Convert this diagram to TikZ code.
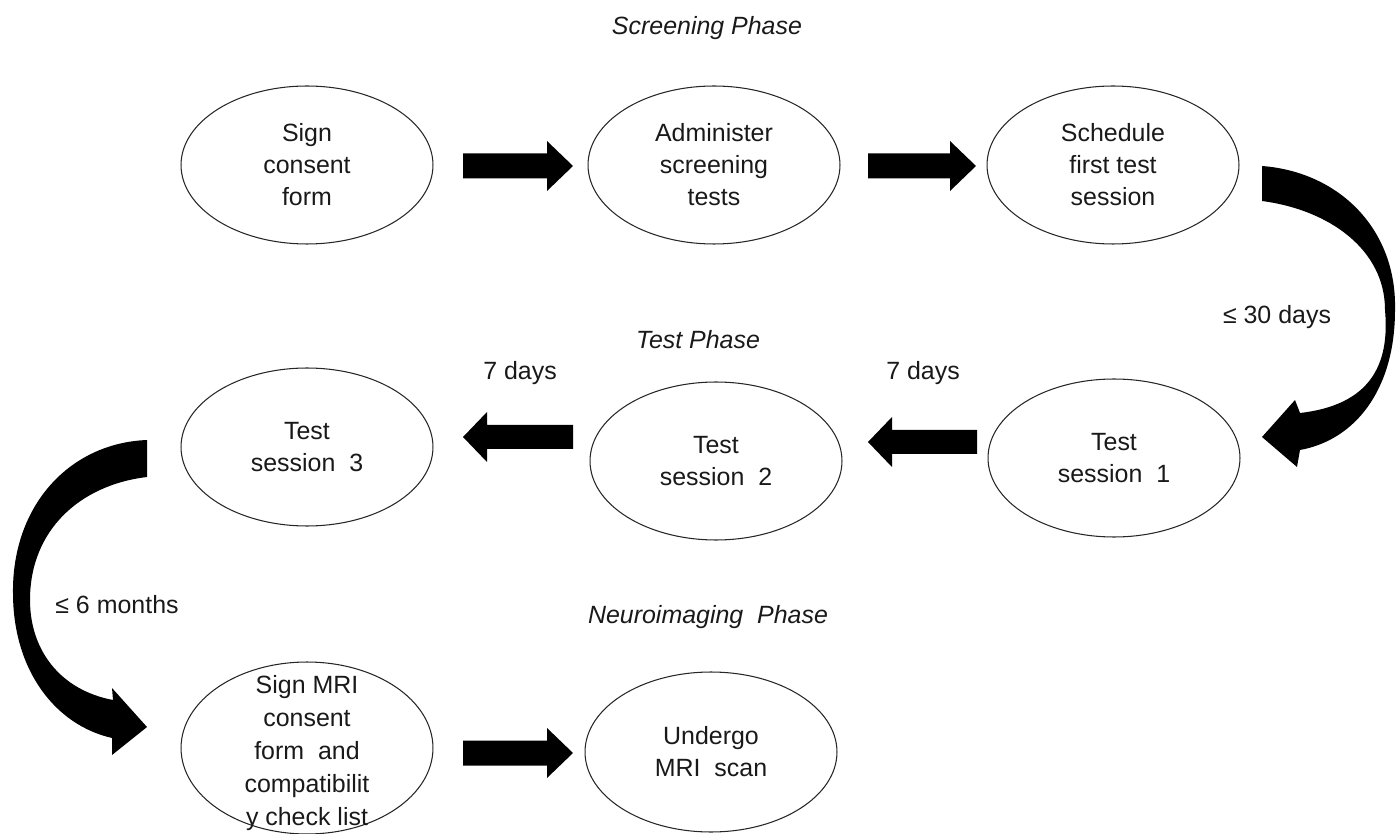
\documentclass[tikz,border=0pt]{standalone}
\usepackage{fontspec}
\setmainfont{Liberation Sans}
\usetikzlibrary{shapes.geometric,calc}
\newcommand\mainfs{\fontsize{14.2pt}{18.2pt}\selectfont}
\newcommand\mrifs{\fontsize{14.2pt}{18.8pt}\selectfont}
% right-pointing block arrow from tail #1 to tip #2
\newcommand\blockR[2]{\fill[blk] ($(#1)+(0,-12.5)$) -- ($(#2)+(-26,-12.5)$) -- ($(#2)+(-26,-25)$) -- (#2) -- ($(#2)+(-26,25)$) -- ($(#2)+(-26,12.5)$) -- ($(#1)+(0,12.5)$) -- cycle;}
% left-pointing block arrow from tail #1 to tip #2
\newcommand\blockL[2]{\fill[blk] ($(#1)+(0,-12)$) -- ($(#2)+(24,-12)$) -- ($(#2)+(24,-25)$) -- (#2) -- ($(#2)+(24,25)$) -- ($(#2)+(24,12)$) -- ($(#1)+(0,12)$) -- cycle;}
\begin{document}
\begin{tikzpicture}[x=0.02cm,y=-0.02cm,
  ell/.style={draw=black!85, line width=0.6pt, ellipse, minimum width=5.04cm, minimum height=3.16cm, inner sep=0pt, align=center, font=\mainfs, text=black!90},
  lbl/.style={inner sep=0pt, font=\mainfs, text=black!90},
  phase/.style={inner sep=0pt, font=\mainfs\itshape, text=black!90},
  blk/.style={fill=black}]
\useasboundingbox (0,0) rectangle (1400,834);

% phase titles
\node[phase] (ph1) at (707,28) {Screening Phase};
\node[phase] (ph2) at (698,340) {Test Phase};
\node[phase] (ph3) at (708,617) {Neuroimaging\ \ Phase};

% row 1
\node[ell] (n1) at (307,165) {Sign\\consent\\form};
\node[ell] (n2) at (714,165) {Administer\\screening\\tests};
\node[ell] (n3) at (1113,165) {Schedule\\first test\\session};

% row 2
\node[ell] (t1) at (1114,458) {Test\\session\ \ 1};
\node[ell] (t2) at (716,461) {Test\\session\ \ 2};
\node[ell] (t3) at (307,447) {Test\\session\ \ 3};

% row 3
\node[ell, minimum height=3.44cm, label={[lbl,font=\mrifs,align=center,yshift=-0.1cm]center:Sign MRI\\consent\\form\ \ and\\compatibilit\\y check list}] (m1) at (307,748) {};
\node[ell, minimum height=3.2cm] (m2) at (711,752) {Undergo\\MRI\ \ scan};

% labels
\node[lbl] (d1) at (923,373) {7 days};
\node[lbl] (d2) at (520,373) {7 days};
\node[lbl] (d30) at (1277,317) {≤ 30 days};
\node[lbl] (d6) at (117,605) {≤ 6 months};

% straight block arrows
\coordinate (a1t) at (463,166); \coordinate (a1h) at (573,166);
\coordinate (a2t) at (868,166); \coordinate (a2h) at (976,166);
\coordinate (b1t) at (977,442); \coordinate (b1h) at (868,442);
\coordinate (b2t) at (573,437); \coordinate (b2h) at (463,437);
\coordinate (c1t) at (463,753); \coordinate (c1h) at (573,753);
\blockR{a1t}{a1h}
\blockR{a2t}{a2h}
\blockL{b1t}{b1h}
\blockL{b2t}{b2h}
\blockR{c1t}{c1h}

% curved arrow: schedule -> test session 1
\fill[blk] (1262,166) .. controls (1340,172) and (1397,230) .. (1395,310)
  .. controls (1395,390) and (1355,440) .. (1300,450)
  -- (1297,467) -- (1262,437) -- (1295,400) -- (1300,413)
  .. controls (1370,405) and (1390,365) .. (1385,310)
  .. controls (1385,250) and (1330,210) .. (1262,201) -- cycle;

% curved arrow: test session 3 -> sign MRI consent
\fill[blk] (147,440) .. controls (70,443) and (12,505) .. (13,593)
  .. controls (13,670) and (55,725) .. (112,738)
  -- (112,755) -- (147,727) -- (112,688) -- (113,700)
  .. controls (60,690) and (30,650) .. (30,600)
  .. controls (30,530) and (80,485) .. (147,477) -- cycle;
\end{tikzpicture}
\end{document}
